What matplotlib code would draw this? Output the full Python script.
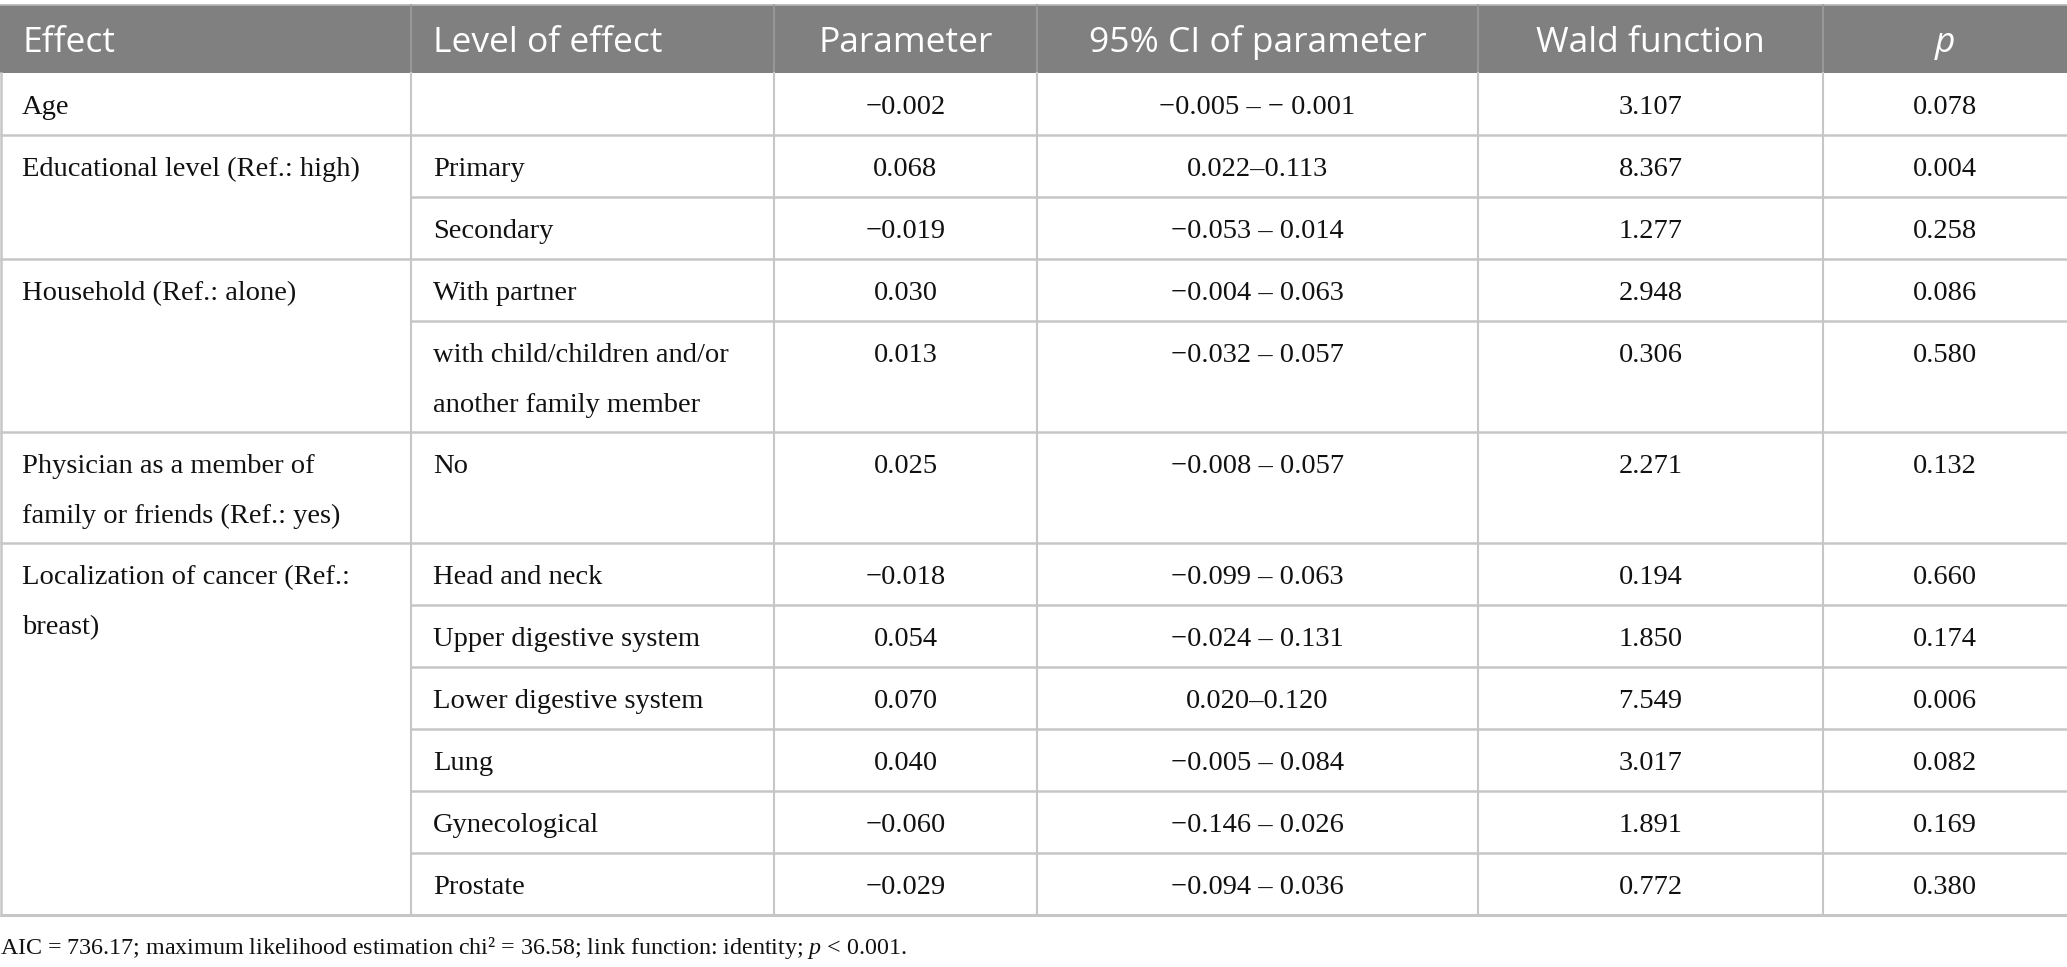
import matplotlib
matplotlib.use("Agg")
import matplotlib.pyplot as plt
from matplotlib.patches import Rectangle

plt.rcParams['mathtext.fontset'] = 'custom'
plt.rcParams['mathtext.rm'] = 'Liberation Serif'
plt.rcParams['mathtext.it'] = 'Liberation Serif:italic'

# table content
headers = ["Effect", "Level of effect", "Parameter", "95% CI of parameter", "Wald function", "p"]
effects = ["Age",
           "Educational level (Ref.: high)", "",
           "Household (Ref.: alone)", "",
           "Physician as a member of\nfamily or friends (Ref.: yes)",
           "Localization of cancer (Ref.:\nbreast)", "", "", "", "", ""]
levels = ["",
          "Primary", "Secondary",
          "With partner", "with child/children and/or\nanother family member",
          "No",
          "Head and neck", "Upper digestive system", "Lower digestive system",
          "Lung", "Gynecological", "Prostate"]
params = ["\u22120.002", "0.068", "\u22120.019", "0.030", "0.013", "0.025",
          "\u22120.018", "0.054", "0.070", "0.040", "\u22120.060", "\u22120.029"]
ci = ["\u22120.005 \u2013 \u2212 0.001", "0.022\u20130.113", "\u22120.053 \u2013 0.014",
      "\u22120.004 \u2013 0.063", "\u22120.032 \u2013 0.057", "\u22120.008 \u2013 0.057",
      "\u22120.099 \u2013 0.063", "\u22120.024 \u2013 0.131", "0.020\u20130.120",
      "\u22120.005 \u2013 0.084", "\u22120.146 \u2013 0.026", "\u22120.094 \u2013 0.036"]
wald = ["3.107", "8.367", "1.277", "2.948", "0.306", "2.271",
        "0.194", "1.850", "7.549", "3.017", "1.891", "0.772"]
pvals = ["0.078", "0.004", "0.258", "0.086", "0.580", "0.132",
         "0.660", "0.174", "0.006", "0.082", "0.169", "0.380"]
footnote = "AIC = 736.17; maximum likelihood estimation chi\u00b2 = 36.58; link function: identity; $p$ < 0.001."

W, H = 2067, 967
col_x = [0, 411, 774, 1037, 1478, 1823, 2067]
head_top, head_bot = 5, 73
line_h = 50
single_h = 62
pad = 22

header_col = "#808080"
grid_col = "#c6c6c6"
body_font = "Liberation Serif"
head_font = "Open Sans"

fig = plt.figure(figsize=(W / 100, H / 100), dpi=100)
ax = fig.add_axes([0, 0, 1, 1])
ax.set_xlim(0, W)
ax.set_ylim(H, 0)
ax.axis('off')

# group start flags (effect cell spans until next non-empty effect)
n = len(levels)
starts = [i for i in range(n) if effects[i] != ""]
group_end = {}
for k, s in enumerate(starts):
    group_end[s] = starts[k + 1] if k + 1 < len(starts) else n

# row heights
heights = []
for i in range(n):
    nl = levels[i].count("\n") + 1
    if i in group_end and group_end[i] - i == 1:
        nl = max(nl, effects[i].count("\n") + 1)
    heights.append(single_h + (nl - 1) * (line_h - 1))
tops = [head_bot]
for h in heights:
    tops.append(tops[-1] + h)

# header
ax.plot([0, W], [head_top - 0.5, head_top - 0.5], color="#b5b5b5", lw=1.2)
ax.add_patch(Rectangle((0, head_top), W, head_bot - head_top, color=header_col, lw=0))
for j in range(1, 6):
    ax.plot([col_x[j], col_x[j]], [head_top, head_bot], color="#9c9c9c", lw=1.2)
for j, t in enumerate(headers):
    yb = 52
    style = 'italic' if t == "p" else 'normal'
    if j < 2:
        ax.text(col_x[j] + pad, yb, t, ha='left', va='baseline', color='white',
                fontsize=25.5, family=head_font, style=style)
    else:
        ax.text((col_x[j] + col_x[j + 1]) / 2, yb, t, ha='center', va='baseline',
                color='white', fontsize=25.5, family=head_font, style=style)


def put_lines(x, top, s, ha):
    for k, line in enumerate(s.split("\n")):
        ax.text(x, top + 41 + k * line_h, line, ha=ha, va='baseline',
                fontsize=20.5, family=body_font, color='#111111')


# body text
for i in range(n):
    top = tops[i]
    if effects[i]:
        put_lines(col_x[0] + pad, top, effects[i], 'left')
    if levels[i]:
        put_lines(col_x[1] + pad, top, levels[i], 'left')
    for j, col in zip(range(2, 6), [params, ci, wald, pvals]):
        put_lines((col_x[j] + col_x[j + 1]) / 2, top, col[i], 'center')

# grid lines
for i in range(1, n):
    y = tops[i]
    x0 = col_x[0] if i in group_end else col_x[1]
    ax.plot([x0, W], [y, y], color=grid_col, lw=1.8, solid_capstyle='butt')
ax.plot([0, W], [tops[-1], tops[-1]], color=grid_col, lw=2.2, solid_capstyle='butt')
ax.plot([0.8, 0.8], [head_bot, tops[-1]], color=grid_col, lw=1.8)
for j in range(1, 6):
    ax.plot([col_x[j], col_x[j]], [head_bot, tops[-1]], color=grid_col, lw=1.5)

# footnote
ax.text(0, tops[-1] + 39, footnote, ha='left', va='baseline', fontsize=17.3,
        family=body_font, color='#111111')

fig.savefig("out.png", dpi=100)
